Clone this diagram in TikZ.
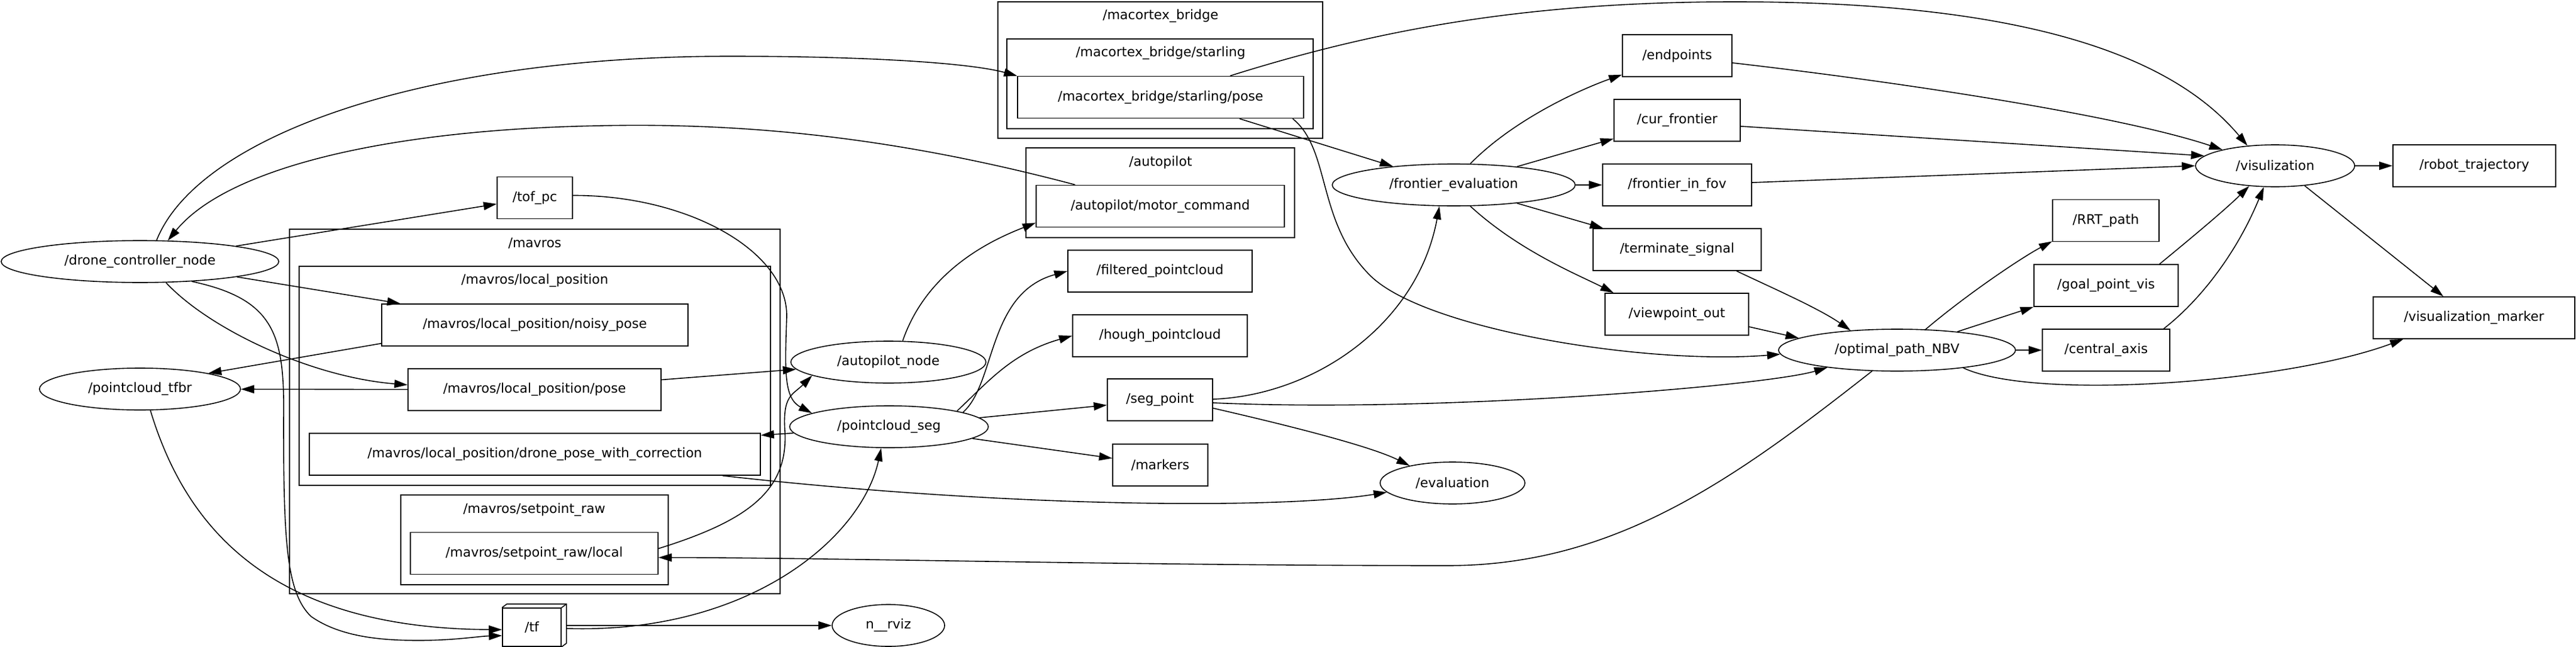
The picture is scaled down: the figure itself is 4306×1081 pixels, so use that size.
\documentclass[tikz,border=0pt]{standalone}
\usepackage{fontspec}
\setmainfont{DejaVu Sans}
\usetikzlibrary{arrows.meta,calc,shapes.geometric}
\begin{document}
\begin{tikzpicture}[x=0.25pt,y=-0.25pt,line width=0.4pt,
  every node/.style={font=\fontsize{5.5}{6.6}\selectfont,inner sep=0pt},
  wd/.style={minimum width=#1*0.25pt},
  topic/.style={draw,rectangle,minimum height=17.5pt},
  nd/.style={draw,ellipse,minimum height=17.5pt},
  edge/.style={-{Triangle[length=5.5pt,width=3.4pt]}}]
\useasboundingbox (0,0) rectangle (4306,1081);
% clusters
\draw (484,383) rectangle (1304,992);
\node (lmavros) at (894,406) {/mavros};
\draw (500,445) rectangle (1288,811);
\node (llocal) at (894,469) {/mavros/local\_position};
\draw (670,827) rectangle (1117,977);
\node (lsetp) at (893,852) {/mavros/setpoint\_raw};
\draw (1668,3) rectangle (2211,231);
\node (lmac) at (1940,27) {/macortex\_bridge};
\draw (1683,65) rectangle (2195,215);
\node (lstar) at (1940,89) {/macortex\_bridge/starling};
\draw (1715,247) rectangle (2164,397);
\node (lauto) at (1940,271) {/autopilot};
% nodes
\node[nd,wd=464] (dcn) at (234,437) {/drone\_controller\_node};
\node[nd,wd=336] (tfbr) at (234,650) {/pointcloud\_tfbr};
\node[topic,wd=126] (tofpc) at (894,330.5) {/tof\_pc};
\node[topic,wd=512] (noisy) at (894,543) {/mavros/local\_position/noisy\_pose};
\node[topic,wd=423] (lppose) at (893.5,651) {/mavros/local\_position/pose};
\node[topic,wd=754] (dpwc) at (894,759) {/mavros/local\_position/drone\_pose\_with\_correction};
\node[topic,wd=414] (spl) at (893,924.5) {/mavros/setpoint\_raw/local};
\node[draw,minimum width=24.5pt,minimum height=16pt] (tf) at (889,1048) {/tf};
\draw (tf.north west) -- ++(8,-6) -- ($(tf.north east)+(8,-6)$) -- ($(tf.south east)+(8,-6)$) -- (tf.south east);
\draw (tf.north east) -- ++(8,-6);
\node[nd,wd=188] (rviz) at (1485,1045) {n\_\_rviz};
\node[nd,wd=326] (apn) at (1485,605) {/autopilot\_node};
\node[nd,wd=332] (pcseg) at (1486,713) {/pointcloud\_seg};
\node[topic,wd=478] (macpose) at (1940,162.5) {/macortex\_bridge/starling/pose};
\node[topic,wd=415] (motor) at (1939.5,344.5) {/autopilot/motor\_command};
\node[topic,wd=308] (filtered) at (1939,453) {/filtered\_pointcloud};
\node[topic,wd=292] (hough) at (1939,561) {/hough\_pointcloud};
\node[topic,wd=176] (segpoint) at (1939,668) {/seg\_point};
\node[topic,wd=159] (markers) at (1939.5,777) {/markers};
\node[nd,wd=242] (evaluation) at (2428,807) {/evaluation};
\node[nd,wd=406] (fe) at (2430,309) {/frontier\_evaluation};
\node[topic,wd=183] (endpoints) at (2803.5,93) {/endpoints};
\node[topic,wd=211] (curf) at (2803.5,201) {/cur\_frontier};
\node[topic,wd=249] (fif) at (2803.5,309) {/frontier\_in\_fov};
\node[topic,wd=281] (term) at (2803.5,417) {/terminate\_signal};
\node[topic,wd=240] (vpo) at (2803,525) {/viewpoint\_out};
\node[nd,wd=396] (nbv) at (3171,585) {/optimal\_path\_NBV};
\node[topic,wd=178] (rrt) at (3520,368.5) {/RRT\_path};
\node[topic,wd=241] (goal) at (3520.5,477) {/goal\_point\_vis};
\node[topic,wd=213] (central) at (3520.5,585) {/central\_axis};
\node[nd,wd=266] (vis) at (3803,277) {/visulization};
\node[topic,wd=272] (robot) at (4136,277) {/robot\_trajectory};
\node[topic,wd=337] (vmark) at (4135.5,531) {/visualization\_marker};
% edges
\draw[edge] (dcn.52) .. controls (330,230) and (700,94) .. (1220,94) .. controls (1450,94) and (1620,105) .. (macpose.north west);
\draw[edge] ($(motor.north west)+(66,0)$) .. controls (1500,230) and (1250,205) .. (1006,210) .. controls (650,216) and (380,280) .. (dcn.37);
\draw[edge] (dcn) -- (tofpc);
\draw[edge] (dcn.351) -- ($(noisy.north west)+(32,0)$);
\draw[edge] (dcn.321) .. controls (350,550) and (520,630) .. ($(lppose.west)+(0,-8)$);
\draw[edge] (dcn.339) .. controls (460,500) and (476,560) .. (474,700) .. controls (474,900) and (478,990) .. (520,1030) .. controls (570,1065) and (640,1070) .. (700,1070) .. controls (760,1070) and (800,1063) .. ($(tf.west)+(0,14)$);
\draw[edge] ($(noisy.south west)+(0,-5)$) -- (tfbr.13);
\draw[edge] (lppose) -- (tfbr);
\draw[edge] (tfbr.296) .. controls (310,880) and (450,1050) .. ($(tf.west)+(0,4)$);
\draw[edge] ($(tofpc.east)+(0,-4)$) .. controls (1150,326) and (1318,420) .. (1315,530) .. controls (1312,620) and (1310,665) .. (pcseg.170);
\draw[edge] (lppose) -- (apn);
\draw[edge] ($(spl.east)+(0,-8)$) .. controls (1250,870) and (1318,820) .. (1312,720) .. controls (1308,660) and (1325,660) .. (apn.190);
\draw[edge] (pcseg) -- ($(dpwc.north east)+(0,4)$);
\draw[edge] ($(tf.east)+(8,2)$) .. controls (1250,1060) and (1440,900) .. (pcseg.250);
\draw[edge] ($(tf.east)+(8,-3)$) -- (rviz);
\draw[edge] (apn.56) .. controls (1550,450) and (1660,400) .. ($(motor.south west)+(0,-8)$);
\draw[edge] (pcseg.11) .. controls (1665,640) and (1650,490) .. (filtered.west);
\draw[edge] (pcseg.13) .. controls (1650,640) and (1690,590) .. (hough.west);
\draw[edge] (pcseg) -- (segpoint);
\draw[edge] (pcseg) -- (markers);
\draw[edge] ($(segpoint.east)+(0,14)$) .. controls (2150,710) and (2290,745) .. (evaluation.158);
\draw[edge] ($(segpoint.east)+(0,-1)$) .. controls (2200,660) and (2370,540) .. (fe.236);
\draw[edge] ($(segpoint.east)+(0,5)$) .. controls (2400,690) and (2950,645) .. (nbv.194);
\draw[edge] ($(dpwc.south east)+(-64,0)$) .. controls (1700,850) and (2150,850) .. (evaluation.188);
\draw[edge] ($(macpose.south east)+(-108,0)$) -- (fe.163);
\draw[edge] ($(macpose.south east)+(-19,0)$) .. controls (2225,250) and (2200,370) .. (2290,460) .. controls (2380,550) and (2750,610) .. (nbv.182);
\draw[edge] ($(macpose.north west)+(356,0)$) .. controls (2300,50) and (2550,3) .. (2900,3) .. controls (3350,3) and (3620,80) .. (vis.144);
\draw[edge] (fe.52) .. controls (2530,200) and (2640,150) .. ($(endpoints.south west)+(0,-4)$);
\draw[edge] (fe) -- (curf);
\draw[edge] (fe) -- (fif);
\draw[edge] (fe) -- (term);
\draw[edge] (fe.308) .. controls (2540,420) and (2640,460) .. ($(vpo.north west)+(15,0)$);
\draw[edge] ($(term.south east)+(-42,0)$) .. controls (2960,480) and (3040,515) .. (nbv.157);
\draw[edge] ($(vpo.east)+(0,21)$) -- (nbv.173);
\draw[edge] ($(endpoints.east)+(0,12)$) .. controls (3200,140) and (3550,195) .. (vis.163);
\draw[edge] ($(curf.east)+(0,10)$) -- (vis.172);
\draw[edge] ($(fif.east)+(0,-4)$) -- (vis.west);
\draw[edge] (nbv.36) .. controls (3290,490) and (3380,430) .. ($(rrt.south west)+(0,-1)$);
\draw[edge] (nbv.17) -- (goal.south west);
\draw[edge] (nbv) -- (central);
\draw[edge] (nbv.345) .. controls (3400,670) and (3820,640) .. ($(vmark.south west)+(51,0)$);
\draw[edge] (nbv.220) .. controls (2900,800) and (2700,945) .. (2420,945) .. controls (1900,945) and (1400,932) .. ($(spl.east)+(0,7)$);
\draw[edge] ($(goal.north east)+(-32,0)$) .. controls (3660,400) and (3720,350) .. (vis.218);
\draw[edge] ($(central.north east)+(-11,0)$) .. controls (3680,500) and (3740,420) .. (vis.242);
\draw[edge] (vis) -- (robot);
\draw[edge] (vis.326) -- ($(vmark.north west)+(118,0)$);
\end{tikzpicture}
\end{document}
